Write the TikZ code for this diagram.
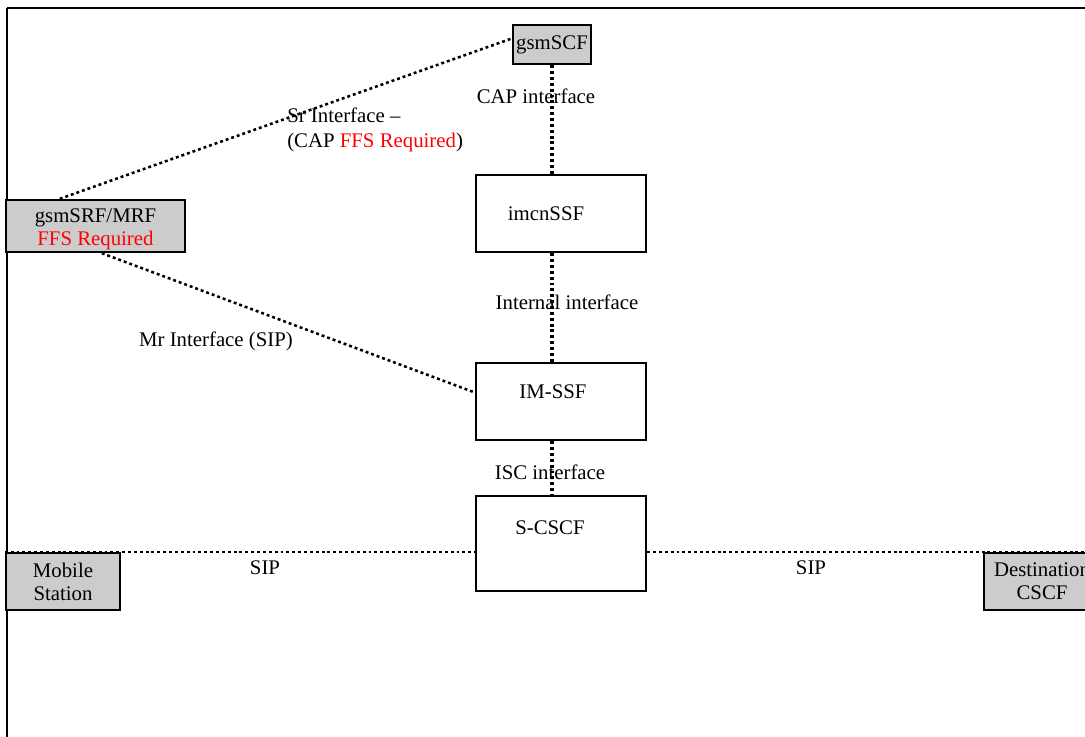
\documentclass[tikz,border=0pt]{standalone}
\usepackage{fontspec}
\setmainfont{Liberation Serif}
\usetikzlibrary{calc}
\definecolor{boxgray}{HTML}{CCCCCC}
\definecolor{ffsred}{HTML}{FF0000}
\begin{document}
\begin{tikzpicture}[x=0.75pt,y=-0.75pt,
  font=\fontsize{15.6}{17.25}\selectfont,
  box/.style={draw, line width=1.8pt, inner sep=0pt, align=center},
  gbox/.style={box, fill=boxgray},
  dots/.style={line width=1.9pt, dash pattern=on 2.2pt off 2.2pt},
  vdots/.style={line width=2.4pt, dash pattern=on 2.2pt off 2.2pt},
  lbl/.style={inner sep=0pt, text height=0.66em, text depth=0pt}]
\useasboundingbox (0,0) rectangle (1085,737);
\clip (0,0) rectangle (1085,737);
% frame
\draw[line width=1.8pt] (7,8) -- (1085,8);
\draw[line width=1.1pt] (7,8) -- (7,737);
% boxes
\node[gbox, minimum width=58.5pt, minimum height=29.25pt] (scf) at (552,44.5) {gsmSCF};
\node[box, minimum width=127.5pt, minimum height=57.75pt] (imcn) at (561,213.5) {};
\node[box, minimum width=127.5pt, minimum height=57.75pt] (imssf) at (561,401.5) {};
\node[box, minimum width=127.5pt, minimum height=71.25pt] (scscf) at (561,543.5) {};
\node[gbox, minimum width=134.25pt, minimum height=39pt] (srf) at (95.5,226) {};
\node[inner sep=0pt, align=center] (srft) at (95.5,229) {gsmSRF/MRF\\\textcolor{ffsred}{FFS Required}};
\node[gbox, minimum width=85.5pt, minimum height=42.75pt] (ms) at (63,581.5) {Mobile\\Station};
\node[gbox, minimum width=87pt, minimum height=42.75pt] (dest) at (1042,581.5) {Destination\\CSCF};
% box texts
\node[lbl] (imcnt) at (546,216) {imcnSSF};
\node[lbl] (imssft) at (553,394) {IM-SSF};
\node[lbl] (scscft) at (550,530) {S-CSCF};
% connectors
\draw[vdots] (scf.south) -- (scf.south |- imcn.north);
\draw[vdots] (scf.south |- imcn.south) -- (scf.south |- imssf.north);
\draw[vdots] (scf.south |- imssf.south) -- (scf.south |- scscf.north);
\draw[dots] ($(srf.north west)+(55,0)$) -- ($(scf.west)+(0,-6)$);
\draw[dots] ($(srf.south west)+(97,0)$) -- ($(imssf.west)+(0,-9)$);
\draw[dots] (ms.north west) -- (ms.north west -| scscf.west);
\draw[dots] (dest.north west -| scscf.east) -- (dest.north east);
% labels
\node[lbl] (capl) at (536,99) {CAP interface};
\node[lbl, anchor=west] (srl) at (287,118) {Sr Interface --};
\node[lbl, anchor=west] (srl2) at (287,143) {(CAP \textcolor{ffsred}{FFS Required})};
\node[lbl] (intl) at (567,305) {Internal interface};
\node[lbl] (iscl) at (550,475) {ISC interface};
\node[lbl] (mrl) at (216,342) {Mr Interface (SIP)};
\node[lbl] (sipl) at (265,570) {SIP};
\node[lbl] (sipr) at (811,570) {SIP};
\end{tikzpicture}
\end{document}
